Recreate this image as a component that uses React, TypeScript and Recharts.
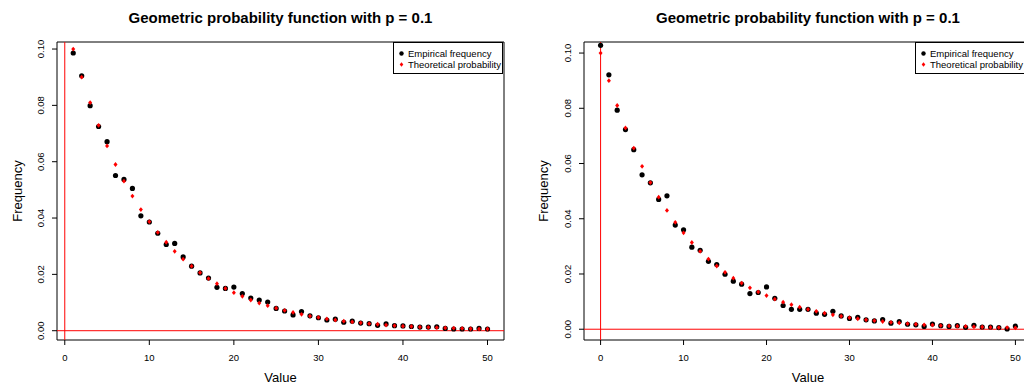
import {
  ScatterChart, Scatter, XAxis, YAxis, ReferenceLine, ReferenceArea,
} from 'recharts'

// x = 1..50 for the left panel (counting trials), 0..50 for the right (counting failures)
const leftValues = [
  1, 2, 3, 4, 5, 6, 7, 8, 9, 10, 11, 12, 13, 14, 15, 16, 17, 18, 19, 20, 21, 22, 23, 24, 25,
  26, 27, 28, 29, 30, 31, 32, 33, 34, 35, 36, 37, 38, 39, 40, 41, 42, 43, 44, 45, 46, 47, 48, 49, 50,
]
const rightValues = [0, ...leftValues]

const leftEmpirical = [
  0.0986, 0.0905, 0.0799, 0.0725, 0.0671, 0.0551, 0.0537, 0.0505, 0.0408, 0.0386,
  0.0346, 0.0306, 0.031, 0.0262, 0.0229, 0.0205, 0.0187, 0.0154, 0.015, 0.0155,
  0.0132, 0.0116, 0.0109, 0.0102, 0.0079, 0.007, 0.0056, 0.0068, 0.0053, 0.0046,
  0.0038, 0.0041, 0.003, 0.0034, 0.0027, 0.0025, 0.0019, 0.0024, 0.0018, 0.0017,
  0.0015, 0.0013, 0.0013, 0.0014, 0.0008, 0.0006, 0.0006, 0.0006, 0.0008, 0.0006,
]
const leftTheoretical = [
  0.1, 0.09, 0.081, 0.0729, 0.0656, 0.059, 0.0531, 0.0478, 0.043, 0.0387,
  0.0349, 0.0314, 0.0282, 0.0254, 0.0229, 0.0206, 0.0185, 0.0167, 0.015, 0.0135,
  0.0122, 0.0109, 0.0098, 0.0089, 0.008, 0.0072, 0.0065, 0.0058, 0.0052, 0.0047,
  0.0042, 0.0038, 0.0034, 0.0031, 0.0028, 0.0025, 0.0023, 0.002, 0.0018, 0.0016,
  0.0015, 0.0013, 0.0012, 0.0011, 0.001, 0.0009, 0.0008, 0.0007, 0.0006, 0.0006,
]

const rightEmpirical = [
  0.1028, 0.0921, 0.0793, 0.0723, 0.065, 0.0559, 0.053, 0.047, 0.0483, 0.0377,
  0.036, 0.0297, 0.0286, 0.0246, 0.0234, 0.0199, 0.0174, 0.0163, 0.0129, 0.0133,
  0.0153, 0.0112, 0.0086, 0.0072, 0.0072, 0.0072, 0.0058, 0.0054, 0.0065, 0.0048,
  0.0039, 0.0043, 0.0034, 0.003, 0.0035, 0.0022, 0.0028, 0.0018, 0.0016, 0.001,
  0.0019, 0.0013, 0.001, 0.0013, 0.0007, 0.0014, 0.0008, 0.0008, 0.0006, 0.0001,
  0.0011,
]
const rightTheoretical = [
  0.1, 0.09, 0.081, 0.0729, 0.0656, 0.059, 0.0531, 0.0478, 0.043, 0.0387,
  0.0349, 0.0314, 0.0282, 0.0254, 0.0229, 0.0206, 0.0185, 0.0167, 0.015, 0.0135,
  0.0122, 0.0109, 0.0098, 0.0089, 0.008, 0.0072, 0.0065, 0.0058, 0.0052, 0.0047,
  0.0042, 0.0038, 0.0034, 0.0031, 0.0028, 0.0025, 0.0023, 0.002, 0.0018, 0.0016,
  0.0015, 0.0013, 0.0012, 0.0011, 0.001, 0.0009, 0.0008, 0.0007, 0.0006, 0.0006,
  0.0005,
]

const xTicks = [0, 10, 20, 30, 40, 50]
const yTicks = [0, 0.02, 0.04, 0.06, 0.08, 0.1]
const title = 'Geometric probability function with p = 0.1'

const FONT = '"Liberation Sans", Arial, Helvetica, sans-serif'

const toPoints = (xs: number[], ys: number[]) => xs.map((x, i) => ({ x, y: ys[i] }))

const Dot = (p: any) => <circle cx={p.cx} cy={p.cy} r={2.6} fill="#000" />
const Diamond = (p: any) => (
  <polygon
    points={`${p.cx},${p.cy - 2.4} ${p.cx + 2},${p.cy} ${p.cx},${p.cy + 2.4} ${p.cx - 2},${p.cy}`}
    fill="#ff0000"
  />
)

const YTick = (p: any) => (
  <text
    x={p.x - 8}
    y={p.y}
    transform={`rotate(-90, ${p.x - 8}, ${p.y})`}
    textAnchor="middle"
    fontSize={9.5}
    fontFamily={FONT}
    fill="#000"
  >
    {Number(p.payload.value).toFixed(2)}
  </text>
)

interface PanelProps {
  xs: number[]
  empirical: number[]
  theoretical: number[]
  xDomain: [number, number]
  yDomain: [number, number]
  width: number
  yAxisWidth: number
  rightMargin: number
  labelOffset: number
}

function Panel({ xs, empirical, theoretical, xDomain, yDomain, width, yAxisWidth, rightMargin, labelOffset }: PanelProps) {
  return (
    <ScatterChart width={width} height={385} margin={{ top: 42, right: rightMargin, left: 0, bottom: 0 }}>
      <XAxis
        type="number"
        dataKey="x"
        domain={xDomain}
        allowDataOverflow
        ticks={xTicks}
        height={45}
        axisLine={false}
        tickSize={5}
        tickMargin={9}
        tickLine={{ stroke: '#000' }}
        tick={{ fontSize: 9.5, fill: '#000', fontFamily: FONT }}
        label={{ value: 'Value', position: 'insideBottom', offset: 3, fontSize: 13, fill: '#000', fontFamily: FONT }}
      />
      <YAxis
        type="number"
        dataKey="y"
        domain={yDomain}
        allowDataOverflow
        ticks={yTicks}
        width={yAxisWidth}
        axisLine={false}
        tickSize={5}
        tickMargin={0}
        tickLine={{ stroke: '#000' }}
        tick={<YTick />}
        label={{
          value: 'Frequency', angle: -90, position: 'insideLeft', offset: labelOffset,
          fontSize: 13, fill: '#000', fontFamily: FONT, style: { textAnchor: 'middle' },
        }}
      />
      <ReferenceArea x1={xDomain[0]} x2={xDomain[1]} y1={yDomain[0]} y2={yDomain[1]} fill="none" stroke="#000" strokeWidth={1} />
      <ReferenceLine x={0} stroke="#ff0000" strokeWidth={1} />
      <ReferenceLine y={0} stroke="#ff0000" strokeWidth={1} />
      <Scatter data={toPoints(xs, empirical)} shape={Dot} isAnimationActive={false} />
      <Scatter data={toPoints(xs, theoretical)} shape={Diamond} isAnimationActive={false} />
    </ScatterChart>
  )
}

function LegendBox({ left }: { left: number }) {
  const row = { display: 'flex', alignItems: 'center', height: 11, whiteSpace: 'nowrap' as const }
  return (
    <div style={{
      position: 'absolute', left, top: 42, width: 110, height: 32, border: '1px solid #000',
      background: '#fff', fontFamily: FONT, fontSize: 9.5, color: '#000', boxSizing: 'border-box',
      padding: '5px 0 0 4px',
    }}>
      <div style={row}>
        <svg width={9} height={9}><circle cx={3.5} cy={4.5} r={2.2} fill="#000" /></svg>
        <span style={{ marginLeft: 1 }}>Empirical frequency</span>
      </div>
      <div style={row}>
        <svg width={9} height={9}><polygon points="3.5,2.3 5.3,4.5 3.5,6.7 1.7,4.5" fill="#ff0000" /></svg>
        <span style={{ marginLeft: 1 }}>Theoretical probability</span>
      </div>
    </div>
  )
}

export default function App() {
  const titleStyle = {
    position: 'absolute' as const, top: 9, fontFamily: FONT, fontWeight: 'bold' as const,
    fontSize: 15, color: '#000', transform: 'translateX(-50%)', whiteSpace: 'nowrap' as const,
  }
  return (
    <div style={{ position: 'absolute', left: 0, top: 0, width: 1024, height: 385, overflow: 'hidden', background: '#fff' }}>
      <div style={{ position: 'absolute', left: 0, top: 0 }}>
        <Panel
          xs={leftValues}
          empirical={leftEmpirical}
          theoretical={leftTheoretical}
          xDomain={[-0.92, 51.95]}
          yDomain={[-0.0033, 0.1025]}
          width={512}
          yAxisWidth={57}
          rightMargin={8}
          labelOffset={17}
        />
      </div>
      <div style={{ position: 'absolute', left: 512, top: 0 }}>
        <Panel
          xs={rightValues}
          empirical={rightEmpirical}
          theoretical={rightTheoretical}
          xDomain={[-2, 52]}
          yDomain={[-0.0039, 0.104]}
          width={530}
          yAxisWidth={72}
          rightMargin={10}
          labelOffset={31}
        />
      </div>
      <div style={{ ...titleStyle, left: 280.5 }}>{title}</div>
      <div style={{ ...titleStyle, left: 808 }}>{title}</div>
      <LegendBox left={393} />
      <LegendBox left={915} />
    </div>
  )
}
